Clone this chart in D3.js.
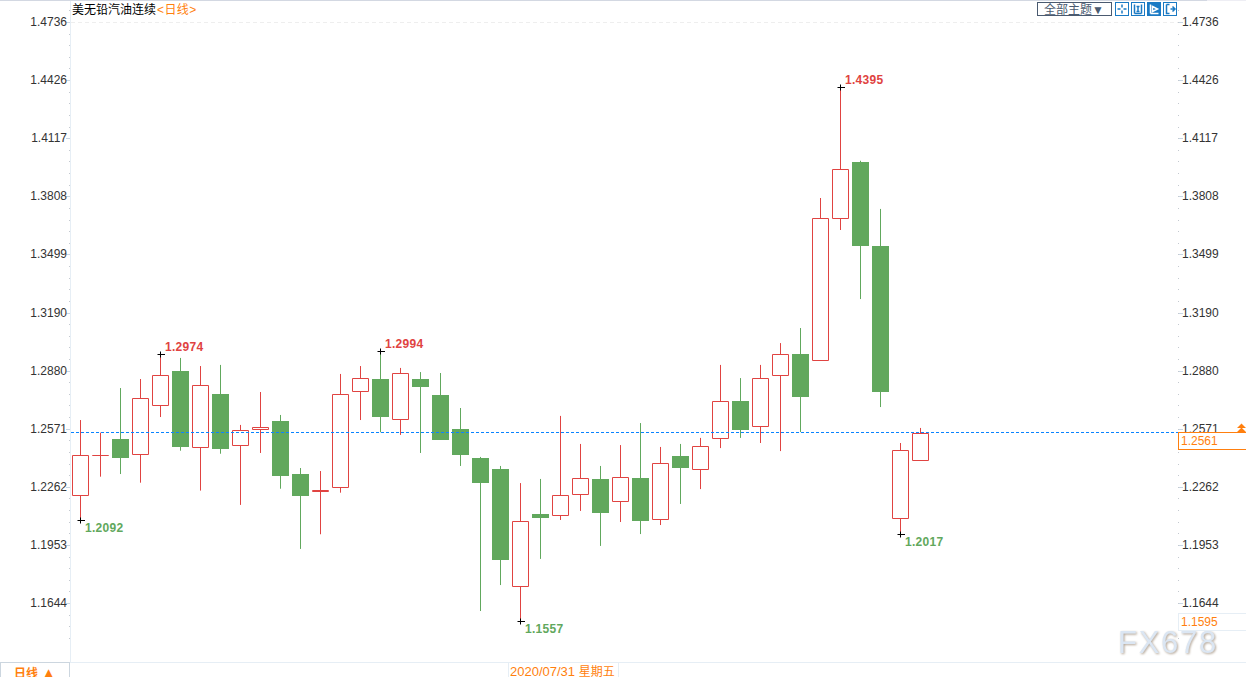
<!DOCTYPE html>
<html>
<head>
<meta charset="utf-8">
<script src="https://cdn.jsdelivr.net/npm/d3@7"></script>
<style>
html, body { margin: 0; padding: 0; background: #fff; overflow: hidden; }
text { font-family: Arial, "Liberation Sans", "Noto Sans CJK SC", sans-serif; font-size: 12px; }
</style>
</head>
<body>
<div id="chart"></div>
<script>
// daily bars
var opens  = [1.2225,1.2438,1.2524,1.2441,1.2701,1.2886,1.2483,1.2763,1.2491,1.2574,1.2620,1.2338,1.2246,1.2268,1.2776,1.2843,1.2627,1.2843,1.2758,1.2577,1.2423,1.2365,1.1739,1.2126,1.2117,1.2228,1.2312,1.2191,1.2317,1.2095,1.2434,1.2361,1.2526,1.2726,1.2590,1.2861,1.2976,1.2940,1.3700,1.3996,1.3550,1.2101,1.2409];
var highs  = [1.2625,1.2558,1.2795,1.2843,1.2974,1.2955,1.2912,1.2918,1.2599,1.2774,1.2652,1.2370,1.2354,1.2870,1.2912,1.2994,1.2902,1.2880,1.2875,1.2689,1.2429,1.2381,1.2290,1.2312,1.2647,1.2498,1.2381,1.2492,1.2609,1.2482,1.2498,1.2530,1.2918,1.2848,1.2918,1.3034,1.3114,1.3805,1.4395,1.4003,1.3747,1.2503,1.2583];
var lows   = [1.2092,1.2324,1.2338,1.2292,1.2641,1.2462,1.2250,1.2446,1.2174,1.2450,1.2260,1.1940,1.2018,1.2239,1.2625,1.2560,1.2546,1.2450,1.2519,1.2381,1.1610,1.1748,1.1557,1.1887,1.2094,1.2142,1.1956,1.2083,1.2019,1.2067,1.2179,1.2258,1.2476,1.2530,1.2503,1.2460,1.2561,1.2940,1.3635,1.3268,1.2694,1.2017,1.2409];
var closes = [1.2438,1.2438,1.2425,1.2741,1.2863,1.2482,1.2810,1.2471,1.2571,1.2586,1.2328,1.2223,1.2252,1.2762,1.2847,1.2641,1.2873,1.2802,1.2519,1.2439,1.2290,1.1881,1.2087,1.2104,1.2225,1.2315,1.2131,1.2321,1.2088,1.2395,1.2370,1.2485,1.2725,1.2572,1.2847,1.2974,1.2747,1.3697,1.3958,1.3550,1.2774,1.2464,1.2555];

var tickValues = [1.4736,1.4426,1.4117,1.3808,1.3499,1.3190,1.2880,1.2571,1.2262,1.1953,1.1644];
var markedHighs = [4, 15, 38];
var markedLows = [0, 22, 41];
var lastPrice = 1.2561;
var cursorPrice = 1.1595;

var width = 1246, height = 677;
var red = "#e04341", green = "#61a85d", orange = "#ff7f0e";

var svg = d3.select("#chart").append("svg")
    .attr("width", width)
    .attr("height", height)
    .style("display", "block");

var x = d3.scaleLinear().domain([0, opens.length - 1]).range([80.5, 920.5]);
var y = d3.scaleLinear().domain([1.4395, 1.1557]).range([87, 621]);
var bars = d3.range(opens.length);

// top strip
svg.append("rect").attr("x", 0).attr("y", 0).attr("width", 1207).attr("height", 1).attr("fill", "#d3d8e2");
svg.append("rect").attr("x", 1207).attr("y", 0).attr("width", 39).attr("height", 1).attr("fill", "#eeeef4");

// dashed line at the top of the range
svg.append("line")
    .attr("x1", 71).attr("x2", 1178).attr("y1", 22.5).attr("y2", 22.5)
    .attr("stroke", "#eeeeee").attr("stroke-dasharray", "4,3");

// watermark goes under the price boxes
svg.append("text").attr("x", 1118).attr("y", 653)
    .attr("fill", "#dbe6f3")
    .style("font-size", "31px").style("letter-spacing", "1.7px")
    .style("filter", "drop-shadow(1px 1px 1px #b3a596)")
    .text("FX678");

// axes, the labelled ticks sit a pixel above the candle scale
var yTicks = d3.scaleLinear().domain([1.4736, 1.1644]).range([22, 603]);
var minor = d3.range(-2, 54).map(i => 22 + i * 58.1 / 5);

function drawAxis(axisX, tickDir, labelX, anchor) {
    var g = svg.append("g");
    g.append("g").selectAll("rect").data(minor.filter(d => d > 0 && d < 660)).join("rect")
        .attr("x", axisX - 1).attr("y", d => Math.round(d)).attr("width", 1).attr("height", 1)
        .attr("fill", "#c4c9d0");
    g.append("g").selectAll("line").data(tickValues).join("line")
        .attr("x1", axisX).attr("x2", axisX + tickDir * 4)
        .attr("y1", d => Math.round(yTicks(d)) + 0.5).attr("y2", d => Math.round(yTicks(d)) + 0.5)
        .attr("stroke", "#c9d6e2");
    g.append("g").selectAll("text").data(tickValues).join("text")
        .attr("x", labelX).attr("y", d => yTicks(d) + 4)
        .attr("text-anchor", anchor).attr("fill", "#333")
        .text(d => d.toFixed(4));
}
svg.append("line").attr("x1", 70.5).attr("x2", 70.5).attr("y1", 1).attr("y2", 662).attr("stroke", "#e6eef5");
drawAxis(70, -1, 67, "end");
drawAxis(1179, 1, 1182, "start");

// wicks
svg.append("g").selectAll("line").data(bars).join("line")
    .attr("x1", i => x(i)).attr("x2", i => x(i))
    .attr("y1", i => y(highs[i])).attr("y2", i => y(lows[i]))
    .attr("stroke", i => closes[i] >= opens[i] ? red : green);

// bodies, up bars are hollow red and down bars solid green
svg.append("g").selectAll("path").data(bars).join("path")
    .attr("d", i => {
        var up = closes[i] >= opens[i];
        var left = up ? x(i) - 8 : x(i) - 8.5;
        var w = up ? 16 : 17;
        var top = Math.round(y(Math.max(opens[i], closes[i]))) + (up ? 0.5 : 0);
        var h = Math.round(Math.abs(y(opens[i]) - y(closes[i])));
        return "M" + left + " " + top + "h" + w + "v" + h + "h" + (-w) + "z";
    })
    .attr("fill", i => closes[i] >= opens[i] ? "#fff" : green)
    .attr("stroke", i => closes[i] >= opens[i] ? red : "none");

// last price line
svg.append("line")
    .attr("x1", 71).attr("x2", 1178).attr("y1", Math.round(y(lastPrice)) + 0.5).attr("y2", Math.round(y(lastPrice)) + 0.5)
    .attr("stroke", "#0a84ff").attr("stroke-dasharray", "3,2");

// high and low marks
function drawMark(i, v, labelDy, color) {
    var g = svg.append("g");
    var my = Math.round(y(v)) + 0.5;
    g.append("line").attr("x1", x(i) - 3).attr("x2", x(i) + 4.5).attr("y1", my).attr("y2", my).attr("stroke", "#000");
    g.append("line").attr("x1", x(i)).attr("x2", x(i)).attr("y1", my - 3).attr("y2", my + 3).attr("stroke", "#000");
    g.append("text").attr("x", x(i) + 4.5).attr("y", y(v) + labelDy)
        .attr("fill", color).style("font-weight", "bold").style("letter-spacing", "0.3px")
        .text(v.toFixed(4));
}
markedHighs.forEach(i => drawMark(i, highs[i], -3, red));
markedLows.forEach(i => drawMark(i, lows[i], 12, green));

// title
var title = svg.append("text").attr("x", 72).attr("y", 14);
title.append("tspan").attr("fill", "#000").text("美无铅汽油连续");
title.append("tspan").attr("fill", orange).attr("dx", 1).style("letter-spacing", "0.4px").text("<日线>");

// theme button and tool icons
svg.append("rect").attr("x", 1037.5).attr("y", 2.5).attr("width", 74).attr("height", 13)
    .attr("fill", "#fff").attr("stroke", "#4a5a70");
svg.append("text").attr("x", 1044).attr("y", 14).attr("fill", "#4a5a70").text("全部主题▼");

var iconXs = [1115.5, 1131.5, 1147.5, 1163.5];
svg.append("g").selectAll("rect").data(iconXs).join("rect")
    .attr("x", d => d).attr("y", 2.5).attr("width", 13).attr("height", 13)
    .attr("fill", (d, i) => i === 2 ? "#1a7ac4" : "#fff").attr("stroke", "#1a7ac4");
var iconPaths = [
    "M6.5 2v3M6.5 8v3M2 6.5h3M8 6.5h3",
    "M3 2v9M10 2v9M3 11h7M5 4h3M6.5 4v5M5 9h3",
    "M3 2v9M3 11h8M5 4l5 2.5-5 2.5z",
    "M3 2v9h3M3 2h3M7 6.5h4M9 4l2.5 2.5L9 9"
];
svg.append("g").selectAll("path").data(iconPaths).join("path")
    .attr("transform", (d, i) => "translate(" + iconXs[i] + ",2.5)")
    .attr("d", d => d)
    .attr("fill", "none")
    .attr("stroke-width", 1.5)
    .attr("stroke", (d, i) => i === 2 ? "#fff" : "#1a7ac4");

// price boxes on the right
function priceBox(v, stroke) {
    var top = Math.floor(y(v)) + 0.5;
    svg.append("rect").attr("x", 1178.5).attr("y", top).attr("width", 70).attr("height", 17)
        .attr("fill", "#fff").attr("stroke", stroke);
    svg.append("text").attr("x", 1181).attr("y", top + 12.5).attr("fill", orange).text(v.toFixed(4));
}
priceBox(lastPrice, orange);
priceBox(cursorPrice, "#e6eef5");

// double arrow next to the last price
svg.append("path").attr("d", "M1241.5 423.5l4.5 4.5h-9zM1241.5 427.5l4.5 4.5h-9z").attr("fill", orange);

// bottom strip
svg.append("line").attr("x1", 0).attr("x2", width).attr("y1", 662.5).attr("y2", 662.5).attr("stroke", "#e6eef5");
svg.append("rect").attr("x", 0.5).attr("y", 662.5).attr("width", 69).attr("height", 20)
    .attr("fill", "#fff").attr("stroke", "#ccd6df");
var tab = svg.append("text").attr("x", 14).attr("y", 678).attr("fill", orange).style("font-weight", "bold");
tab.append("tspan").text("日线 ");
tab.append("tspan").style("font-size", "15px").text("▲");
svg.append("rect").attr("x", 508.5).attr("y", 662.5).attr("width", 110).attr("height", 20)
    .attr("fill", "#fff").attr("stroke", "#e6eef5");
var dateLabel = svg.append("text").attr("x", 510).attr("y", 675.5).attr("fill", orange);
dateLabel.append("tspan").style("font-size", "13px").text("2020/07/31 ");
dateLabel.append("tspan").text("星期五");
</script>
</body>
</html>
